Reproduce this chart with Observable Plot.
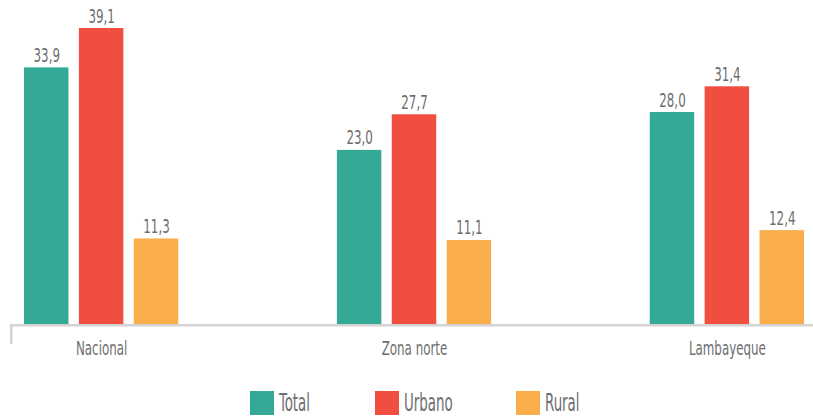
<!DOCTYPE html>
<html>
<head>
<meta charset="utf-8">
<script src="https://cdn.jsdelivr.net/npm/d3@7"></script>
<script src="https://cdn.jsdelivr.net/npm/@observablehq/plot@0.6"></script>
<style>
  body { margin: 0; background: #fff; font-family: "DejaVu Sans Condensed", "DejaVu Sans", sans-serif; }
  #chart { width: 813px; }
  .legend { display: flex; justify-content: flex-start; margin-top: 21px; padding-left: 250px; }
  .item { display: flex; align-items: center; font-size: 24px; color: #6d6e71; margin-right: 66px; height: 24px; }
  .sw { width: 24px; height: 24px; display: inline-block; margin-right: 5px; }
  .lbl { display: inline-block; white-space: nowrap; transform: scaleX(0.62); transform-origin: left center; line-height: 24px; }
</style>
</head>
<body>
<div id="chart"></div>
<script>
const regions = ["Nacional", "Zona norte", "Lambayeque"];
const series = ["Total", "Urbano", "Rural"];
const colors = ["#34a996", "#f04e3e", "#f9ad4b"];
const totalVals = [33.9, 23.0, 28.0];
const urbanoVals = [39.1, 27.7, 31.4];
const ruralVals = [11.3, 11.1, 12.4];

const valsBySerie = {Total: totalVals, Urbano: urbanoVals, Rural: ruralVals};
const data = [];
regions.forEach((r, i) => series.forEach(s => data.push({region: r, serie: s, value: valsBySerie[s][i]})));
const fmt = v => v.toFixed(1).replace(".", ",");
const textColor = "#6d6e71";

const plot = Plot.plot({
  width: 813,
  height: 370,
  marginLeft: 15,
  marginRight: 0,
  marginTop: 28,
  marginBottom: 46,
  style: {fontFamily: '"DejaVu Sans Condensed", "DejaVu Sans", sans-serif', background: "#fff"},
  fx: {domain: regions, paddingInner: 0.507, paddingOuter: 0.0288, round: false, label: null, axis: null},
  x: {domain: series, paddingInner: 0.19, paddingOuter: 0, round: false, axis: null},
  y: {domain: [0, 39.1], axis: null},
  color: {domain: series, range: colors},
  marks: [
    Plot.barY(data, {fx: "region", x: "serie", y: "value", fill: "serie"}),
    Plot.text(data, {fx: "region", x: "serie", y: "value", text: d => fmt(d.value), dy: -6, lineAnchor: "bottom", fill: textColor, fontSize: 20}),
    Plot.text(regions, {fx: d => d, x: () => series[1], y: () => 0, text: d => d, lineAnchor: "top", dy: 16, fill: textColor, fontSize: 20})
  ]
});
document.getElementById("chart").appendChild(plot);

// horizontally condense the svg texts around their anchor point
d3.select(plot).selectAll("text").each(function() {
  const t = this.getAttribute("transform") || "";
  this.setAttribute("transform", `${t} scale(0.66,1)`);
});

// category axis baseline and its left end tick
const ys = plot.scale("y");
const y0 = ys.apply(0);
const svg = d3.select(plot);
svg.append("line")
  .attr("x1", 10).attr("x2", 813)
  .attr("y1", y0 + 1.2).attr("y2", y0 + 1.2)
  .attr("stroke", "#d3d3d3").attr("stroke-width", 2.5);
svg.append("line")
  .attr("x1", 11.2).attr("x2", 11.2)
  .attr("y1", y0).attr("y2", y0 + 20)
  .attr("stroke", "#d3d3d3").attr("stroke-width", 2.5);

const legendTextWidths = [30, 46, 33];
const legend = d3.select("#chart").append("div").attr("class", "legend");
series.forEach((s, i) => {
  const it = legend.append("div").attr("class", "item");
  it.append("span").attr("class", "sw").style("background", colors[i]);
  it.append("span").style("display", "inline-block").style("width", legendTextWidths[i] + "px")
    .append("span").attr("class", "lbl").text(s);
});
</script>
</body>
</html>
